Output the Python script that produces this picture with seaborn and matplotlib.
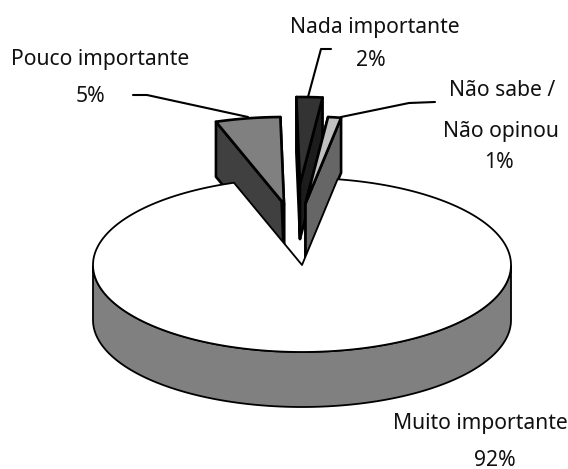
import numpy as np
import seaborn as sns
import matplotlib
matplotlib.use('Agg')
import matplotlib.pyplot as plt

# answers, clockwise, same order as the slices in the chart
categories = ['Muito importante', 'Pouco importante', 'Nada importante', 'Não sabe /\nNão opinou']
values = [92, 5, 2, 1]
labels_pct = ['92%', '5%', '2%', '1%']

sns.set_theme(style='white')
plt.rcParams['font.family'] = ['Noto Sans', 'DejaVu Sans']

# canvas is in pixels so the pie geometry is easy to compare
fig, ax = plt.subplots(figsize=(5.68, 4.69), dpi=100)
fig.subplots_adjust(0, 0, 1, 1)
ax.set_xlim(0, 568)
ax.set_ylim(469, 0)
sns.despine(ax=ax, left=True, bottom=True)
ax.set_xticks([])
ax.set_yticks([])

# pie geometry
cx, cy = 302, 265
rx, ry = 209, 87
depth = 55
start = 9.8
explode = [(0, 0), (-18, -61), (-2, -81), (3.5, -61.5)]
top_col = sns.color_palette(['#ffffff', '#808080', '#333333', '#c0c0c0'])
cut_col = sns.color_palette(['#808080', '#404040', '#1c1c1c', '#666666'])
lw = 1.9
lw_main = 1.3


def rim(t0, t1, dx=0, dy=0, n=200):
    t = np.radians(np.linspace(t0, t1, n))
    return cx + dx + rx * np.sin(t), cy + dy - ry * np.cos(t)


def wedge(t0, t1, dx, dy):
    x, y = rim(t0, t1, dx, dy)
    return np.r_[cx + dx, x], np.r_[cy + dy, y]


# slice angles come from the values
angles = np.cumsum([0] + [v * 3.6 for v in values]) + start

# small slices first, main one sits on top of them
for i in [1, 2, 3]:
    t0, t1 = angles[i], angles[i + 1]
    dx, dy = explode[i]
    tipx, tipy = cx + dx, cy + dy
    # the two cut faces
    for t, col in [(t0, top_col[2] if i == 2 else cut_col[i]), (t1, cut_col[i])]:
        ex, ey = rim(t, t, dx, dy, 1)
        ax.fill([tipx, ex[0], ex[0], tipx], [tipy, ey[0], ey[0] + depth, tipy + depth],
                fc=col, ec='black', lw=lw, joinstyle='round')
    wx, wy = wedge(t0, t1, dx, dy)
    ax.fill(wx, wy, fc=top_col[i], ec='black', lw=lw, joinstyle='round')

# main slice: front wall then top
x, y = rim(90, 270)
ax.fill(np.r_[x, x[::-1]], np.r_[y, y[::-1] + depth], fc=cut_col[0], ec='black', lw=lw_main)
wx, wy = wedge(angles[0], angles[1], 0, 0)
ax.fill(wx, wy, fc=top_col[0], ec='black', lw=lw_main, joinstyle='round')

# leader lines
ax.plot([133, 147, 248], [95, 95, 117], color='black', lw=1.5)
ax.plot([331, 321, 308], [49, 49, 97], color='black', lw=1.5)
ax.plot([435, 409, 341], [102, 103, 117], color='black', lw=1.5)

# labels
fs = 15.2
txt = dict(ha='center', va='center', fontsize=fs, color='#111111')
ax.text(480, 423, categories[0], **txt)
ax.text(495, 460, labels_pct[0], **txt)
ax.text(100, 59, categories[1], **txt)
ax.text(90, 96, labels_pct[1], **txt)
ax.text(375, 28, categories[2], **txt)
ax.text(371, 61, labels_pct[2], **txt)
first, second = categories[3].split('\n')
ax.text(502, 90, first, **txt)
ax.text(501, 131, second, **txt)
ax.text(499, 163, labels_pct[3], **txt)

fig.savefig('out.png', dpi=100)
